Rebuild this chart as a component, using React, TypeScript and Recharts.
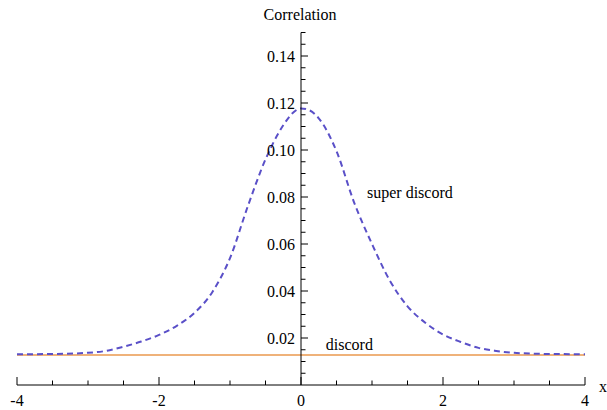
import { ComposedChart, Line, XAxis, YAxis, ReferenceDot } from "recharts";

const xValues = [
  -4, -3.5, -3, -2.75, -2.5, -2.25, -2, -1.75, -1.5, -1.25, -1, -0.75, -0.5, -0.25, -0.125, 0,
  0.125, 0.25, 0.5, 0.75, 1, 1.25, 1.5, 1.75, 2, 2.25, 2.5, 2.75, 3, 3.5, 4,
];
const superDiscord = [
  0.0131, 0.0132, 0.0137, 0.0145, 0.0163, 0.0185, 0.0213, 0.0252, 0.0307, 0.0395, 0.054,
  0.076, 0.096, 0.1105, 0.1155, 0.1177, 0.1168, 0.1135, 0.0995, 0.0775, 0.06, 0.0445,
  0.0335, 0.0265, 0.0215, 0.0183, 0.0158, 0.0145, 0.0137, 0.0132, 0.0131,
];
const discord = [
  0.0128, 0.0128, 0.0128, 0.0128, 0.0128, 0.0128, 0.0128, 0.0128, 0.0128, 0.0128, 0.0128,
  0.0128, 0.0128, 0.0128, 0.0128, 0.0128, 0.0128, 0.0128, 0.0128, 0.0128, 0.0128, 0.0128,
  0.0128, 0.0128, 0.0128, 0.0128, 0.0128, 0.0128, 0.0128, 0.0128, 0.0128,
];

const xTicks = [-4, -3.5, -3, -2.5, -2, -1.5, -1, -0.5, 0, 0.5, 1, 1.5, 2, 2.5, 3, 3.5, 4];
const xLabels = [-4, -2, 0, 2, 4];
const yTicks = [
  0.005, 0.01, 0.015, 0.02, 0.025, 0.03, 0.035, 0.04, 0.045, 0.05, 0.055, 0.06, 0.065, 0.07,
  0.075, 0.08, 0.085, 0.09, 0.095, 0.1, 0.105, 0.11, 0.115, 0.12, 0.125, 0.13, 0.135, 0.14,
  0.145, 0.15,
];
const yLabels = [0.02, 0.04, 0.06, 0.08, 0.1, 0.12, 0.14];

const data = xValues.map((x, i) => ({ x, superDiscord: superDiscord[i], discord: discord[i] }));

const FONT = "Liberation Serif";
const W = 607;
const H = 410;
const TOP = 32.5;
const BOTTOM = 25;

const isIn = (list: number[], v: number) => list.some((l) => Math.abs(l - v) < 1e-9);

const XTick = (props: any) => {
  const { x, y, payload } = props;
  const major = isIn(xLabels, payload.value);
  return (
    <g>
      <line x1={x} y1={y} x2={x} y2={y - (major ? 8 : 4.5)} stroke="#000" strokeWidth={1} />
      {major && (
        <text x={x} y={y + 21} textAnchor="middle" fontFamily={FONT} fontSize={16} fill="#000">
          {payload.value < 0 ? "-" + Math.abs(payload.value) : payload.value}
        </text>
      )}
    </g>
  );
};

const YTick = (props: any) => {
  const { x, y, payload } = props;
  const major = isIn(yLabels, payload.value);
  return (
    <g>
      <line x1={x} y1={y} x2={x + (major ? 7 : 4.5)} y2={y} stroke="#000" strokeWidth={1} />
      {major && (
        <text x={x - 6} y={y + 5.5} textAnchor="end" fontFamily={FONT} fontSize={16} fill="#000">
          {payload.value.toFixed(2)}
        </text>
      )}
    </g>
  );
};

const Note = (props: any) => {
  const { viewBox, text, dx = 0, dy = 0, anchor = "start" } = props;
  return (
    <text
      x={viewBox.x + dx}
      y={viewBox.y + dy}
      textAnchor={anchor}
      fontFamily={FONT}
      fontSize={16}
      fill="#000"
    >
      {text}
    </text>
  );
};

export default function App() {
  return (
    <div style={{ position: "absolute", left: 0, top: 0, width: W, height: H, background: "#fff" }}>
      <div style={{ position: "absolute", left: 0, top: 0 }}>
        <ComposedChart width={W} height={H} data={data} margin={{ top: TOP, right: 22, bottom: 0, left: 17 }}>
          <XAxis
            dataKey="x"
            type="number"
            domain={[-4, 4]}
            ticks={xTicks}
            interval={0}
            height={BOTTOM}
            tickSize={0}
            tickMargin={0}
            tickLine={false}
            axisLine={{ stroke: "#000", strokeWidth: 1 }}
            tick={<XTick />}
          />
          <YAxis type="number" domain={[0, 0.15]} allowDataOverflow hide />
          <Line
            dataKey="discord"
            type="monotone"
            stroke="#efb27a"
            strokeWidth={2}
            dot={false}
            isAnimationActive={false}
          />
          <Line
            dataKey="superDiscord"
            type="monotone"
            stroke="#5a50c8"
            strokeWidth={2}
            strokeDasharray="6 4"
            dot={false}
            isAnimationActive={false}
          />
          <ReferenceDot x={0.93} y={0.0796} r={0} fill="none" stroke="none" label={<Note text="super discord" />} />
          <ReferenceDot x={0.35} y={0.0149} r={0} fill="none" stroke="none" label={<Note text="discord" />} />
          <ReferenceDot x={4} y={0} r={0} fill="none" stroke="none" label={<Note text="x" dx={14} dy={7} />} />
          <ReferenceDot
            x={0}
            y={0.15}
            r={0}
            fill="none"
            stroke="none"
            label={<Note text="Correlation" dx={-1} dy={-13} anchor="middle" />}
          />
        </ComposedChart>
      </div>
      <div style={{ position: "absolute", left: 0, top: 0, pointerEvents: "none" }}>
        <ComposedChart width={W} height={H} data={data} margin={{ top: TOP, right: 10, bottom: BOTTOM, left: 241 }}>
          <XAxis dataKey="x" type="number" domain={[-4, 4]} hide />
          <YAxis
            type="number"
            domain={[0, 0.15]}
            allowDataOverflow
            ticks={yTicks}
            interval={0}
            width={60}
            tickSize={0}
            tickMargin={0}
            tickLine={false}
            axisLine={{ stroke: "#000", strokeWidth: 1 }}
            tick={<YTick />}
          />
          <Line dataKey="discord" stroke="none" dot={false} isAnimationActive={false} />
        </ComposedChart>
      </div>
    </div>
  );
}
